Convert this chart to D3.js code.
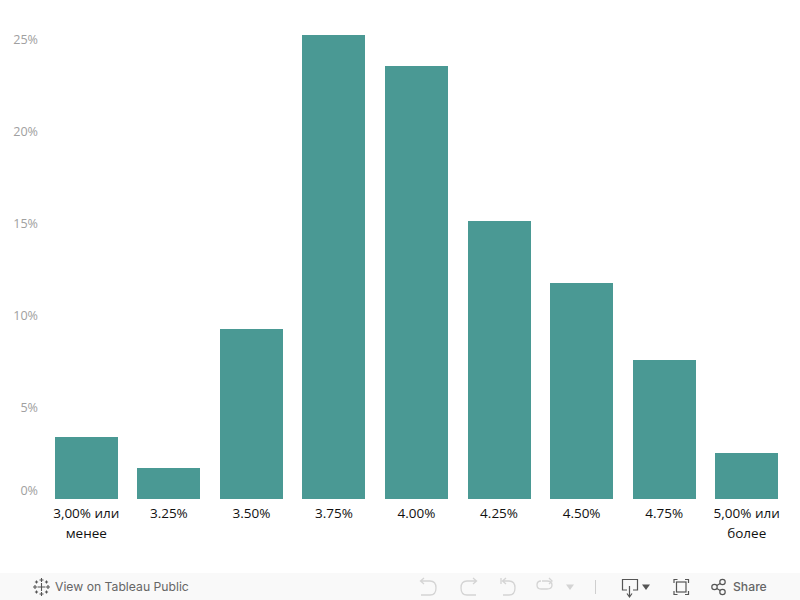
<!DOCTYPE html>
<html>
<head>
<meta charset="utf-8">
<script src="https://cdn.jsdelivr.net/npm/d3@7"></script>
<style>
html, body { margin: 0; padding: 0; background: #fff; }
svg { display: block; }
.ytick text { font-family: "Open Sans", sans-serif; font-size: 12.6px; fill: #a0a0a0; }
.xtick text { font-family: "Open Sans", sans-serif; font-size: 13.5px; fill: #111; }
.toolbar text { font-family: Inter, "Liberation Sans", sans-serif; font-size: 12.2px; fill: #666; }
</style>
</head>
<body>
<div id="chart"></div>
<script>
var categories = ["3,00% или менее", "3.25%", "3.50%", "3.75%", "4.00%", "4.25%", "4.50%", "4.75%", "5,00% или более"];
var shares = [3.37, 1.68, 9.24, 25.2, 23.55, 15.1, 11.75, 7.55, 2.5];
var yTicks = [0, 5, 10, 15, 20, 25];

var width = 800, height = 600;
var barColor = "#4a9994";

var svg = d3.select("#chart").append("svg")
    .attr("width", width)
    .attr("height", height);

var x = d3.scaleBand()
    .domain(categories)
    .range([45.026, 787.976])
    .paddingInner(0.23683)
    .paddingOuter(0.1184);

var y = d3.scaleLinear()
    .domain([0, 25])
    .range([499, 39]);

// bars
svg.append("g").selectAll("rect")
    .data(shares)
    .enter().append("rect")
    .attr("x", function(d, i) { return x(categories[i]); })
    .attr("width", x.bandwidth())
    .attr("y", function(d) { return y(d); })
    .attr("height", function(d) { return y(0) - y(d); })
    .attr("fill", barColor)
    .attr("shape-rendering", "crispEdges");

// y axis, labels only
var yAxis = svg.append("g")
    .attr("class", "ytick")
    .attr("transform", "translate(38,0)")
    .call(d3.axisLeft(y).tickValues(yTicks).tickSize(0).tickPadding(0).tickFormat(function(d) { return d + "%"; }));
yAxis.select(".domain").remove();
// 0% sits above its tick so it stays inside the pane
yAxis.selectAll(".tick text").attr("y", function(d) { return d === 0 ? -9 : 0; }).attr("dy", "0.32em");

// x axis, labels wrap on two lines
var xAxis = svg.append("g")
    .attr("class", "xtick")
    .attr("transform", "translate(0,499)")
    .call(d3.axisBottom(x).tickSize(0).tickFormat(""));
xAxis.select(".domain").remove();
xAxis.selectAll(".tick text").each(function(d) {
  var t = d3.select(this);
  var words = d.split(" ");
  var lines = words.length > 1 ? [words.slice(0, 2).join(" "), words.slice(2).join(" ")] : [d];
  t.attr("y", 0).attr("dy", null);
  lines.forEach(function(line, i) {
    t.append("tspan").attr("x", 0).attr("y", 19 + i * 19.5).text(line);
  });
});

// Tableau Public toolbar
var bar = svg.append("g").attr("class", "toolbar");
bar.append("rect").attr("x", 0).attr("y", 573).attr("width", width).attr("height", 27).attr("fill", "#f9f9f9");
bar.append("text").attr("x", 55).attr("y", 591).text("View on Tableau Public");
bar.append("text").attr("x", 733).attr("y", 591).style("font-weight", 500).text("Share");

// logo
var logo = bar.append("g").attr("stroke", "#555").attr("stroke-width", 1.1).attr("fill", "none");
[[41.5, 587, 4], [41.5, 580, 2], [41.5, 594, 2], [35, 587, 2], [48, 587, 2], [36.5, 582, 1.6], [46.5, 582, 1.6], [36.5, 592, 1.6], [46.5, 592, 1.6]].forEach(function(c) {
  logo.append("path").attr("d", "M" + (c[0] - c[2]) + " " + c[1] + "H" + (c[0] + c[2]) + "M" + c[0] + " " + (c[1] - c[2]) + "V" + (c[1] + c[2]));
});

// greyed out undo, redo, revert, refresh
var off = bar.append("g").attr("stroke", "#d4d4d4").attr("stroke-width", 1.3).attr("fill", "none");
off.append("path").attr("d", "M421 581H430Q436 581 436 588Q436 595 430 595H421M424 578L420.5 581L424 584");
off.append("path").attr("d", "M476 581H467Q461 581 461 588Q461 595 467 595H476M473 578L476.5 581L473 584");
off.append("path").attr("d", "M501 578V584M503 581H509Q515 581 515 588Q515 595 509 595H503M506 578L502.5 581L506 584");
off.append("path").attr("d", "M542 581H547Q552 581 552 585Q552 589 547 589H541Q537 589 537 585Q537 581 541 581M549 578L552 581L549 584");
bar.append("path").attr("d", "M566 584.5H574L570 590Z").attr("fill", "#d4d4d4");
bar.append("path").attr("d", "M595.5 580V594").attr("stroke", "#cfcfcf").attr("stroke-width", 1);

// download, fullscreen, share icons
var on = bar.append("g").attr("stroke", "#555").attr("stroke-width", 1.2).attr("fill", "none");
on.append("path").attr("d", "M627 590H622.5V579.5H637.5V590H633M629.5 586V596M627 593.5L629.5 597L632 593.5");
bar.append("path").attr("d", "M642 584.5H650L646 590Z").attr("fill", "#555");
on.append("path").attr("d", "M674 583V579.5H677.5M685 579.5H688.5V583M688.5 591V594.5H685M677.5 594.5H674V591");
on.append("rect").attr("x", 676.5).attr("y", 582).attr("width", 9.5).attr("height", 10);
on.append("circle").attr("cx", 714.5).attr("cy", 587).attr("r", 2.7);
on.append("circle").attr("cx", 722.5).attr("cy", 582).attr("r", 2.7);
on.append("circle").attr("cx", 722.5).attr("cy", 592).attr("r", 2.7);
on.append("path").attr("d", "M716.8 585.6L720.2 583.4M716.8 588.4L720.2 590.6");
</script>
</body>
</html>
